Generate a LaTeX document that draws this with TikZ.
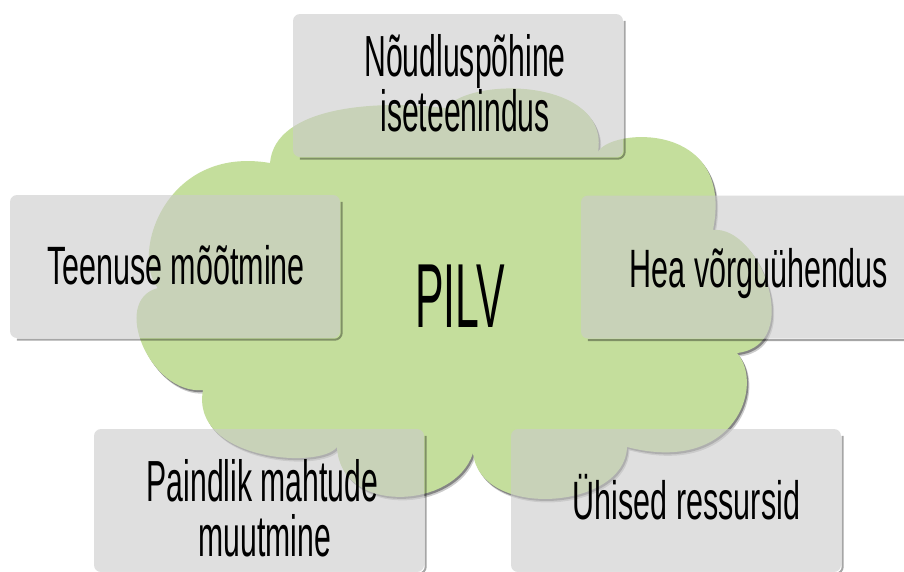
\documentclass[tikz,border=0pt]{standalone}
\usepackage{fontspec}
\newfontfamily\fontA[FakeStretch=0.565]{Liberation Sans}
\newfontfamily\fontB[FakeStretch=0.52]{Liberation Sans}
\newfontfamily\fontC[FakeStretch=0.47]{Liberation Sans}
\definecolor{cloudgreen}{RGB}{196,222,156}
\definecolor{boxgray}{RGB}{203,203,203}
\begin{document}
\begin{tikzpicture}[x=1pt,y=-1pt,
  infobox/.style={rectangle, rounded corners=7pt, minimum width=330pt, minimum height=143pt, inner sep=0pt, fill=boxgray, fill opacity=0.6, draw=none},
  boxshadow/.style={draw=black, draw opacity=0.35, line width=2pt, rounded corners=7pt},
  lblone/.style={font=\fontA\fontsize{54}{54}\selectfont, inner sep=0pt, anchor=base, text=black},
  lbltwo/.style={font=\fontB\fontsize{58}{58}\selectfont, inner sep=0pt, anchor=base, text=black},
  lblbig/.style={font=\fontC\fontsize{91}{91}\selectfont, inner sep=0pt, anchor=base, text=black}]
\clip (0,0) rectangle (904,571);
\fill[white] (0,0) rectangle (904,571);
\def\cloudpath{(445,108) .. controls (475,75) and (610,80) .. (598,152)
 .. controls (610,128) and (735,120) .. (713,230)
 .. controls (760,225) and (805,345) .. (737,353)
 .. controls (765,385) and (735,475) .. (627,447)
 .. controls (625,510) and (480,520) .. (473,453)
 .. controls (455,510) and (340,515) .. (337,447)
 .. controls (320,470) and (190,460) .. (203,390)
 .. controls (150,395) and (110,300) .. (158,288)
 .. controls (130,255) and (165,145) .. (270,163)
 .. controls (275,105) and (380,100) .. (445,108) -- cycle}
% cloud shadow and cloud
\fill[black, opacity=0.2, xshift=2.5pt, yshift=-3.5pt] \cloudpath;
\fill[black, opacity=0.35, xshift=1.5pt, yshift=-2pt] \cloudpath;
\fill[cloudgreen] \cloudpath;
% boxes
\node[infobox] (bTop) at (458,85.5) {};
\node[infobox] (bLeft) at (175,266.5) {};
\node[infobox] (bRight) at (746,267) {};
\node[infobox] (bBL) at (259,500.5) {};
\node[infobox] (bBR) at (676,500.5) {};
\foreach \b in {bTop,bLeft,bRight,bBL,bBR}{
  \draw[boxshadow] ([shift={(1.5,7)}]\b.north east) -- ([shift={(1.5,1.5)}]\b.south east) -- ([shift={(7,1.5)}]\b.south west);
}
% texts
\node[lbltwo] (tTop1) at (465,76) {Nõudluspõhine};
\node[lbltwo] (tTop2) at (465,131) {iseteenindus};
\node[lblone] (tLeft) at (176,284) {Teenuse mõõtmine};
\node[lblone] (tRight) at (758.5,287) {Hea võrguühendus};
\node[lbltwo] (tBL1) at (262.5,501) {Paindlik mahtude};
\node[lbltwo] (tBL2) at (265,556) {muutmine};
\node[lblone] (tBR) at (686.5,519) {Ühised ressursid};
\node[lblbig] (pilv) at (460,327) {PILV};
\end{tikzpicture}
\end{document}
